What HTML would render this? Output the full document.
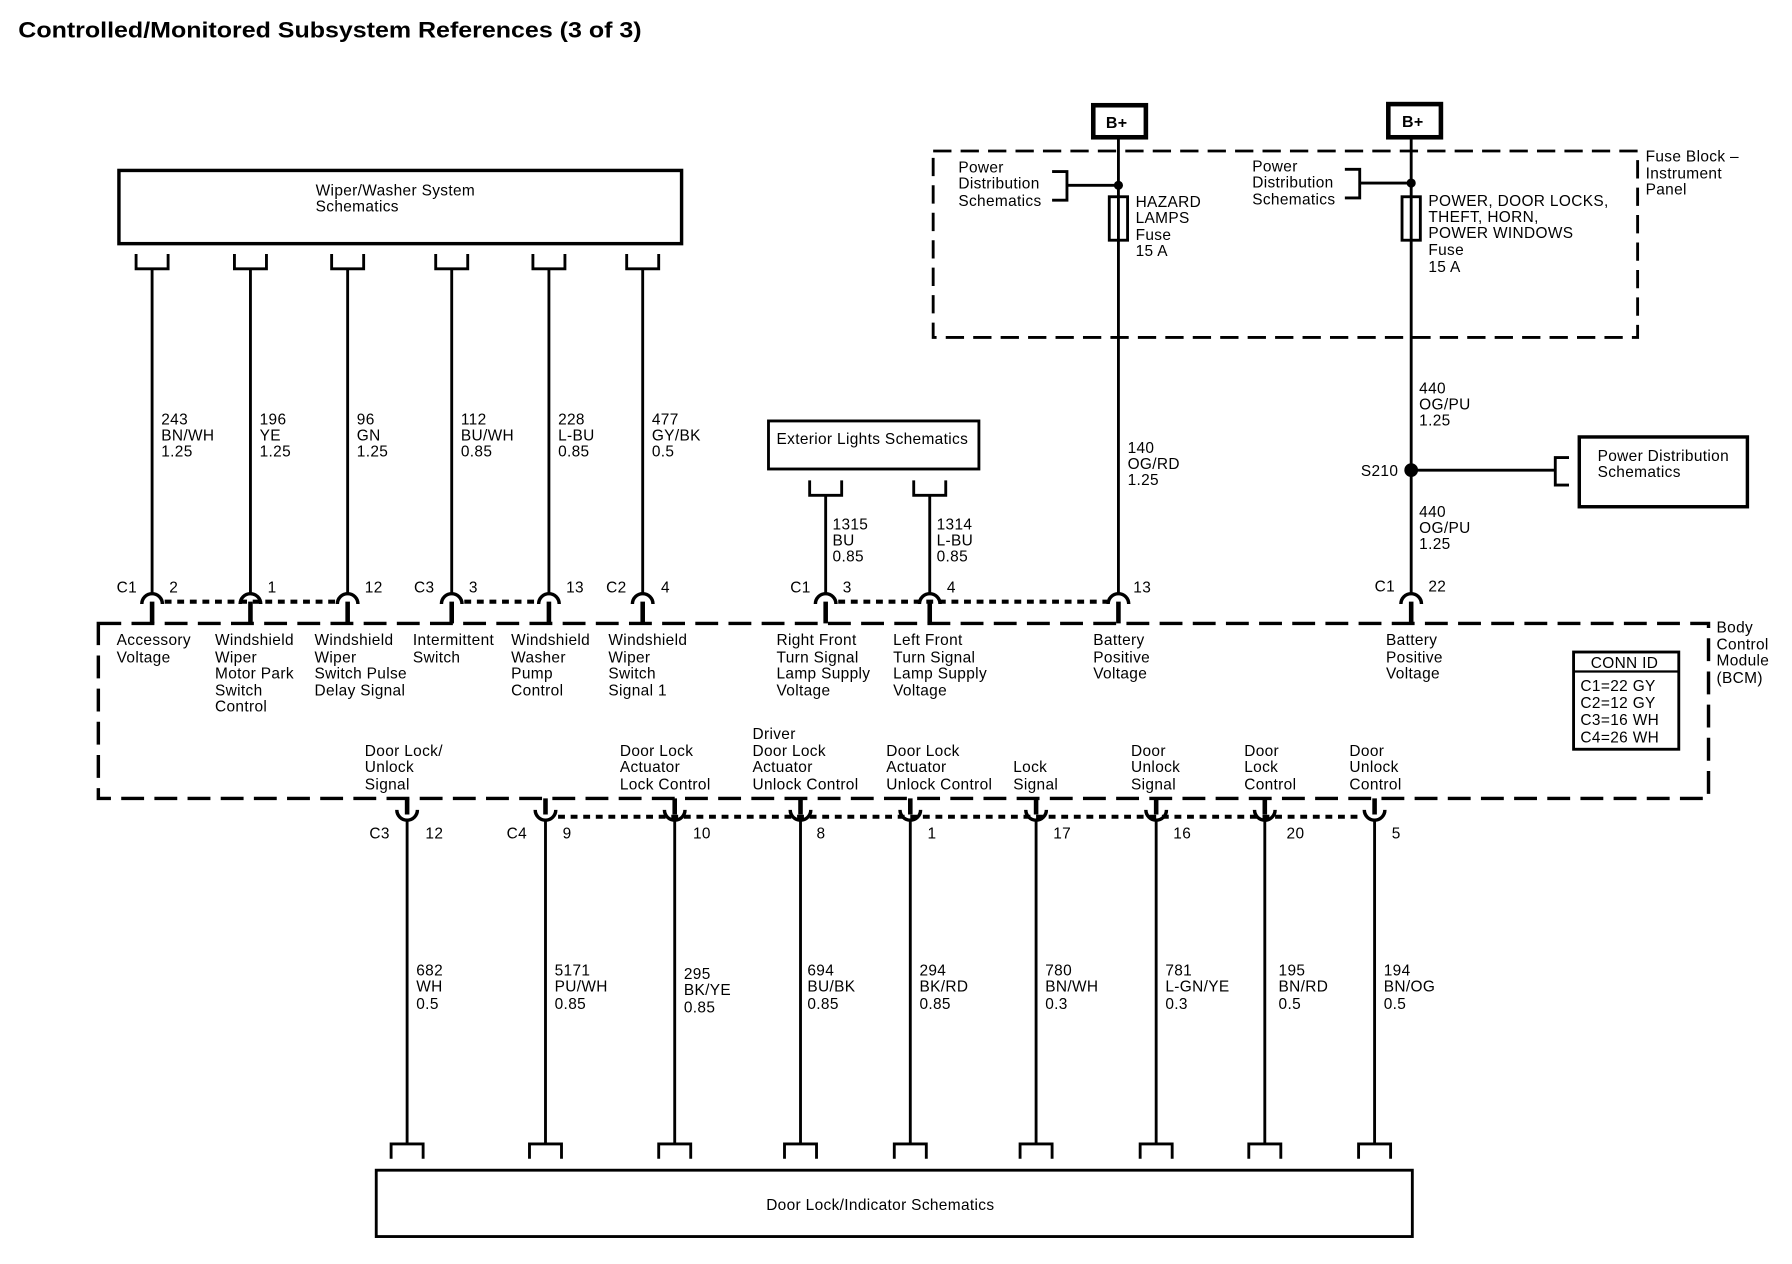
<!DOCTYPE html><html><head><meta charset="utf-8"><style>
html,body{margin:0;padding:0;background:#fff}
svg{display:block}
text{font-family:"Liberation Sans",Arial,sans-serif;font-size:13.5px;fill:#000;letter-spacing:0.3px}
</style></head><body>
<svg width="1792" height="1264" viewBox="0 0 1567 1105" preserveAspectRatio="none" xmlns="http://www.w3.org/2000/svg">
<g stroke="#000" fill="none">
<rect x="104" y="149" width="492" height="64" stroke-width="3"/>
<rect x="672" y="368" width="184" height="42" stroke-width="2.5"/>
<rect x="1381" y="382" width="147" height="61" stroke-width="3"/>
<rect x="329" y="1023" width="906" height="58" stroke-width="2.5"/>
<rect x="956" y="92" width="46" height="28" stroke-width="4"/>
<rect x="1214" y="91" width="46" height="29" stroke-width="4"/>
<rect x="816" y="132" width="616" height="163" stroke-width="2.5" stroke-dasharray="16 8"/>
<rect x="86" y="545" width="1408" height="153" stroke-width="3" stroke-dasharray="20 9"/>
<rect x="1376" y="570" width="92" height="85" stroke-width="2.5"/>
<line x1="1376" y1="587" x2="1468" y2="587" stroke-width="2"/>

<g stroke-width="2.5">
<path d="M119 222V235H147V222M133 235V518"/>
<path d="M205 222V235H233V222M219 235V518"/>
<path d="M290 222V235H318V222M304 235V518"/>
<path d="M381 222V235H409V222M395 235V518"/>
<path d="M466 222V235H494V222M480 235V518"/>
<path d="M548 222V235H576V222M562 235V518"/>
<path d="M708 420V433H736V420M722 433V518"/>
<path d="M799 420V433H827V420M813 433V518"/>
<path d="M978 120V518"/>
<path d="M1234 120V518"/>
<path d="M920 150H933V175H920M933 162H978"/>
<path d="M1176 148H1189V173H1176M1189 160H1234"/>
<rect x="970" y="172" width="16" height="38"/>
<rect x="1226" y="172" width="16" height="38"/>
<path d="M1234 411H1360M1372 400H1360V424H1372"/>
</g>
<g stroke-width="3">
<path d="M124 528A9 9 0 0 1 142 528"/><path d="M210 528A9 9 0 0 1 228 528"/><path d="M295 528A9 9 0 0 1 313 528"/><path d="M386 528A9 9 0 0 1 404 528"/><path d="M471 528A9 9 0 0 1 489 528"/><path d="M553 528A9 9 0 0 1 571 528"/><path d="M713 528A9 9 0 0 1 731 528"/><path d="M804 528A9 9 0 0 1 822 528"/><path d="M969 528A9 9 0 0 1 987 528"/><path d="M1225 528A9 9 0 0 1 1243 528"/>
</g>
<g stroke-width="4">
<path d="M133 526V545M219 526V545M304 526V545M395 526V545M480 526V545M562 526V545M722 526V545M813 526V545M978 526V545M1234 526V545"/>
</g>
<g stroke-width="3.5" stroke-dasharray="6 5">
<path d="M144 526H294M406 526H470M733 526H968"/>
<path d="M488 714H1192"/>
</g>
<g stroke-width="4">
<path d="M356 698V712M477 698V712M590 698V712M700 698V712M796 698V712M906 698V712M1011 698V712M1106 698V712M1202 698V712"/>
</g>
<g stroke-width="3">
<path d="M347 708A9 9 0 0 0 365 708"/><path d="M468 708A9 9 0 0 0 486 708"/><path d="M581 708A9 9 0 0 0 599 708"/><path d="M691 708A9 9 0 0 0 709 708"/><path d="M787 708A9 9 0 0 0 805 708"/><path d="M897 708A9 9 0 0 0 915 708"/><path d="M1002 708A9 9 0 0 0 1020 708"/><path d="M1097 708A9 9 0 0 0 1115 708"/><path d="M1193 708A9 9 0 0 0 1211 708"/>
</g>
<g stroke-width="2.5">
<path d="M356 717V1000M342 1013V1000H370V1013"/>
<path d="M477 717V1000M463 1013V1000H491V1013"/>
<path d="M590 717V1000M576 1013V1000H604V1013"/>
<path d="M700 717V1000M686 1013V1000H714V1013"/>
<path d="M796 717V1000M782 1013V1000H810V1013"/>
<path d="M906 717V1000M892 1013V1000H920V1013"/>
<path d="M1011 717V1000M997 1013V1000H1025V1013"/>
<path d="M1106 717V1000M1092 1013V1000H1120V1013"/>
<path d="M1202 717V1000M1188 1013V1000H1216V1013"/>
</g>
</g>
<circle cx="978" cy="162" r="4"/><circle cx="1234" cy="160" r="4"/><circle cx="1234" cy="411" r="6"/>

<text x="16" y="33" textLength="545" lengthAdjust="spacingAndGlyphs" style="font-size:19px;font-weight:bold;letter-spacing:0">Controlled/Monitored Subsystem References (3 of 3)</text>
<text x="276" y="171">Wiper/Washer System</text><text x="276" y="185">Schematics</text>
<text x="679" y="388">Exterior Lights Schematics</text>
<text x="1397" y="403">Power Distribution</text><text x="1397" y="417">Schematics</text>
<text x="670" y="1058">Door Lock/Indicator Schematics</text>
<text x="967" y="112" style="font-weight:bold;font-size:14px">B+</text>
<text x="1226" y="111" style="font-weight:bold;font-size:14px">B+</text>
<text x="838" y="151">Power</text><text x="838" y="165">Distribution</text><text x="838" y="180">Schematics</text>
<text x="1095" y="150">Power</text><text x="1095" y="164">Distribution</text><text x="1095" y="179">Schematics</text>
<text x="993" y="181">HAZARD</text><text x="993" y="195">LAMPS</text><text x="993" y="210">Fuse</text><text x="993" y="224">15 A</text>
<text x="1249" y="180">POWER, DOOR LOCKS,</text><text x="1249" y="194">THEFT, HORN,</text><text x="1249" y="208">POWER WINDOWS</text><text x="1249" y="223">Fuse</text><text x="1249" y="238">15 A</text>
<text x="1439" y="141">Fuse Block –</text><text x="1439" y="156">Instrument</text><text x="1439" y="170">Panel</text>
<text x="1501" y="553">Body</text><text x="1501" y="568">Control</text><text x="1501" y="582">Module</text><text x="1501" y="597">(BCM)</text>
<text x="1391" y="584">CONN ID</text><text x="1382" y="604">C1=22 GY</text><text x="1382" y="619">C2=12 GY</text><text x="1382" y="634">C3=16 WH</text><text x="1382" y="649">C4=26 WH</text>

<g>
<text x="141" y="371">243</text><text x="141" y="385">BN/WH</text><text x="141" y="399">1.25</text>
<text x="227" y="371">196</text><text x="227" y="385">YE</text><text x="227" y="399">1.25</text>
<text x="312" y="371">96</text><text x="312" y="385">GN</text><text x="312" y="399">1.25</text>
<text x="403" y="371">112</text><text x="403" y="385">BU/WH</text><text x="403" y="399">0.85</text>
<text x="488" y="371">228</text><text x="488" y="385">L-BU</text><text x="488" y="399">0.85</text>
<text x="570" y="371">477</text><text x="570" y="385">GY/BK</text><text x="570" y="399">0.5</text>
<text x="728" y="463">1315</text><text x="728" y="477">BU</text><text x="728" y="491">0.85</text>
<text x="819" y="463">1314</text><text x="819" y="477">L-BU</text><text x="819" y="491">0.85</text>
<text x="986" y="396">140</text><text x="986" y="410">OG/RD</text><text x="986" y="424">1.25</text>
<text x="1241" y="344">440</text><text x="1241" y="358">OG/PU</text><text x="1241" y="372">1.25</text>
<text x="1241" y="452">440</text><text x="1241" y="466">OG/PU</text><text x="1241" y="480">1.25</text>
<text x="1190" y="416">S210</text>
</g>
<g>
<text x="102" y="518">C1</text><text x="148" y="518">2</text><text x="234" y="518">1</text><text x="319" y="518">12</text>
<text x="362" y="518">C3</text><text x="410" y="518">3</text><text x="495" y="518">13</text>
<text x="530" y="518">C2</text><text x="578" y="518">4</text>
<text x="691" y="518">C1</text><text x="737" y="518">3</text><text x="828" y="518">4</text><text x="991" y="518">13</text>
<text x="1202" y="517">C1</text><text x="1249" y="517">22</text>
</g>
<g>
<text x="102" y="564">Accessory</text><text x="102" y="579">Voltage</text>
<text x="188" y="564">Windshield</text><text x="188" y="579">Wiper</text><text x="188" y="593">Motor Park</text><text x="188" y="608">Switch</text><text x="188" y="622">Control</text>
<text x="275" y="564">Windshield</text><text x="275" y="579">Wiper</text><text x="275" y="593">Switch Pulse</text><text x="275" y="608">Delay Signal</text>
<text x="361" y="564">Intermittent</text><text x="361" y="579">Switch</text>
<text x="447" y="564">Windshield</text><text x="447" y="579">Washer</text><text x="447" y="593">Pump</text><text x="447" y="608">Control</text>
<text x="532" y="564">Windshield</text><text x="532" y="579">Wiper</text><text x="532" y="593">Switch</text><text x="532" y="608">Signal 1</text>
<text x="679" y="564">Right Front</text><text x="679" y="579">Turn Signal</text><text x="679" y="593">Lamp Supply</text><text x="679" y="608">Voltage</text>
<text x="781" y="564">Left Front</text><text x="781" y="579">Turn Signal</text><text x="781" y="593">Lamp Supply</text><text x="781" y="608">Voltage</text>
<text x="956" y="564">Battery</text><text x="956" y="579">Positive</text><text x="956" y="593">Voltage</text>
<text x="1212" y="564">Battery</text><text x="1212" y="579">Positive</text><text x="1212" y="593">Voltage</text>
</g>
<g>
<text x="319" y="661">Door Lock/</text><text x="319" y="675">Unlock</text><text x="319" y="690">Signal</text>
<text x="542" y="661">Door Lock</text><text x="542" y="675">Actuator</text><text x="542" y="690">Lock Control</text>
<text x="658" y="646">Driver</text><text x="658" y="661">Door Lock</text><text x="658" y="675">Actuator</text><text x="658" y="690">Unlock Control</text>
<text x="775" y="661">Door Lock</text><text x="775" y="675">Actuator</text><text x="775" y="690">Unlock Control</text>
<text x="886" y="675">Lock</text><text x="886" y="690">Signal</text>
<text x="989" y="661">Door</text><text x="989" y="675">Unlock</text><text x="989" y="690">Signal</text>
<text x="1088" y="661">Door</text><text x="1088" y="675">Lock</text><text x="1088" y="690">Control</text>
<text x="1180" y="661">Door</text><text x="1180" y="675">Unlock</text><text x="1180" y="690">Control</text>
</g>
<g>
<text x="323" y="733">C3</text><text x="372" y="733">12</text>
<text x="443" y="733">C4</text><text x="492" y="733">9</text>
<text x="606" y="733">10</text><text x="714" y="733">8</text><text x="811" y="733">1</text><text x="921" y="733">17</text>
<text x="1026" y="733">16</text><text x="1125" y="733">20</text><text x="1217" y="733">5</text>
</g>
<g>
<text x="364" y="853">682</text><text x="364" y="867">WH</text><text x="364" y="882">0.5</text>
<text x="485" y="853">5171</text><text x="485" y="867">PU/WH</text><text x="485" y="882">0.85</text>
<text x="598" y="856">295</text><text x="598" y="870">BK/YE</text><text x="598" y="885">0.85</text>
<text x="706" y="853">694</text><text x="706" y="867">BU/BK</text><text x="706" y="882">0.85</text>
<text x="804" y="853">294</text><text x="804" y="867">BK/RD</text><text x="804" y="882">0.85</text>
<text x="914" y="853">780</text><text x="914" y="867">BN/WH</text><text x="914" y="882">0.3</text>
<text x="1019" y="853">781</text><text x="1019" y="867">L-GN/YE</text><text x="1019" y="882">0.3</text>
<text x="1118" y="853">195</text><text x="1118" y="867">BN/RD</text><text x="1118" y="882">0.5</text>
<text x="1210" y="853">194</text><text x="1210" y="867">BN/OG</text><text x="1210" y="882">0.5</text>
</g>
</svg>
</body></html>
